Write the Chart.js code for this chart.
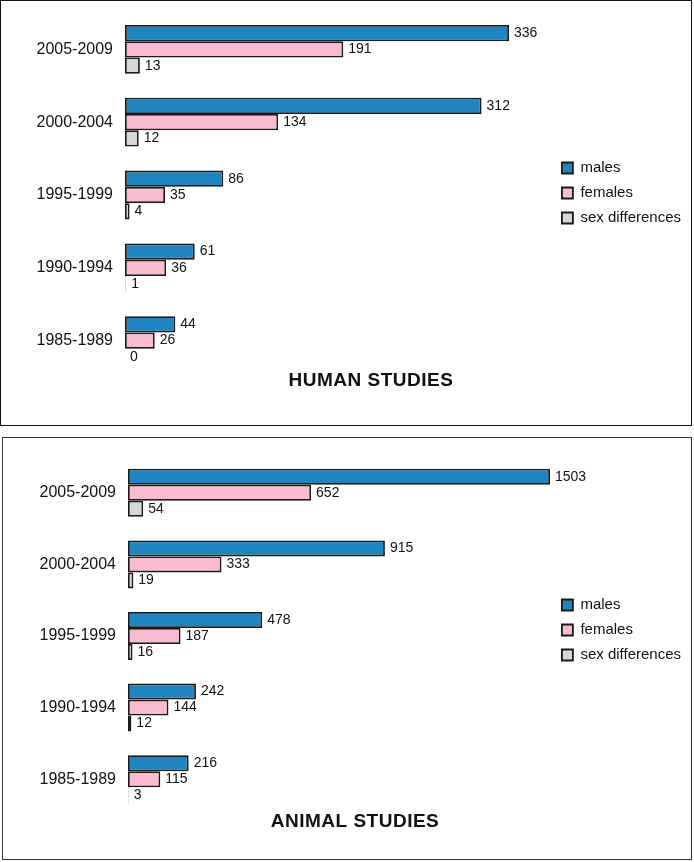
<!DOCTYPE html>
<html>
<head>
<meta charset="utf-8">
<script src="https://cdn.jsdelivr.net/npm/chart.js@4.4.0/dist/chart.umd.min.js"></script>
<style>
  body { margin: 0; background: #fff; width: 694px; height: 862px; position: relative; overflow: hidden; }
  .panel { position: absolute; background: #fff; }
  #humanBox { left: 0; top: 0; width: 690px; height: 424px; border: 1px solid #111; }
  #animalBox { left: 2px; top: 437px; width: 688px; height: 421px; border: 1px solid #333; }
</style>
</head>
<body>
<div class="panel" id="humanBox"><canvas id="humanChart"></canvas></div>
<div class="panel" id="animalBox"><canvas id="animalChart"></canvas></div>
<script>
// data
const periods = ['2005-2009', '2000-2004', '1995-1999', '1990-1994', '1985-1989']
const seriesNames = ['males', 'females', 'sex differences']

const humanMales = [336, 312, 86, 61, 44]
const humanFemales = [191, 134, 35, 36, 26]
const humanSexDiff = [13, 12, 4, 1, 0]

const animalMales = [1503, 915, 478, 242, 216]
const animalFemales = [652, 333, 187, 144, 115]
const animalSexDiff = [54, 19, 16, 12, 3]

const FONT = "'Liberation Sans', Arial, sans-serif"
const colors = ['#1f85c0', '#f8bbd0', '#d8d8d8']

// numbers at the end of each bar
const valueLabels = {
    id: 'valueLabels',
    afterDatasetsDraw(chart) {
        const ctx = chart.ctx
        ctx.save()
        ctx.font = '14px ' + FONT
        ctx.fillStyle = '#111'
        ctx.textBaseline = 'middle'
        chart.data.datasets.forEach((ds, i) => {
            chart.getDatasetMeta(i).data.forEach((bar, j) => {
                ctx.fillText(ds.data[j], bar.x + 5, bar.y)
            })
        })
        ctx.restore()
    }
}

// bold caption under each panel, and a small nudge of the legend
const panelTitle = {
    id: 'panelTitle',
    afterLayout(chart, args, opts) {
        chart.legend.top += opts.legendShift
        chart.legend.bottom += opts.legendShift
    },
    afterDraw(chart, args, opts) {
        const ctx = chart.ctx
        ctx.save()
        ctx.font = 'bold 19px ' + FONT
        ctx.letterSpacing = '0.5px'
        ctx.fillStyle = '#111'
        ctx.textAlign = 'center'
        ctx.textBaseline = 'middle'
        ctx.fillText(opts.text, opts.x, opts.y)
        ctx.restore()
    }
}

function makeChart(id, males, females, sexDiff, cfg) {
    const ctx = document.getElementById(id).getContext('2d')
    const values = [males, females, sexDiff]
    return new Chart(ctx, {
        type: 'bar',
        data: {
            labels: periods,
            datasets: values.map((v, i) => ({
                label: seriesNames[i],
                data: v,
                backgroundColor: colors[i],
                borderColor: '#1a1a1a',
                // bars thinner than a pixel don't show in the original
                borderWidth: c => (c.type === 'data' && c.raw * cfg.pxPerUnit < 2) ? 0 : 1.8,
                borderSkipped: false,
                barPercentage: 1,
                categoryPercentage: 0.67
            }))
        },
        options: {
            indexAxis: 'y',
            responsive: true,
            maintainAspectRatio: false,
            animation: false,
            layout: { padding: { top: cfg.padTop, bottom: cfg.padBottom, left: 0, right: 0 } },
            scales: {
                y: {
                    grid: { display: false, tickLength: 12 },
                    border: { display: false },
                    ticks: { color: '#111', padding: 0, font: { size: 16, family: FONT } },
                    afterFit(s) { s.width = cfg.axisWidth }
                },
                x: {
                    display: false,
                    min: 0,
                    bounds: 'data',
                    afterDataLimits(s) { s.min = 0; s.max = s.width / cfg.pxPerUnit }
                }
            },
            plugins: {
                legend: {
                    position: 'right',
                    labels: { boxWidth: 11, boxHeight: 11, padding: 10, color: '#111', font: { size: 15, family: FONT } }
                },
                tooltip: { enabled: false },
                panelTitle: { text: cfg.title, x: cfg.titleX, y: cfg.titleY, legendShift: cfg.legendShift }
            }
        },
        plugins: [valueLabels, panelTitle]
    })
}

makeChart('humanChart', humanMales, humanFemales, humanSexDiff, {
    padTop: 12, padBottom: 48, axisWidth: 124, pxPerUnit: 384 / 336, legendShift: -2,
    title: 'HUMAN STUDIES', titleX: 370, titleY: 380
})

makeChart('animalChart', animalMales, animalFemales, animalSexDiff, {
    padTop: 19, padBottom: 44, axisWidth: 125, pxPerUnit: 422 / 1503, legendShift: -6,
    title: 'ANIMAL STUDIES', titleX: 352, titleY: 384
})
</script>
</body>
</html>
